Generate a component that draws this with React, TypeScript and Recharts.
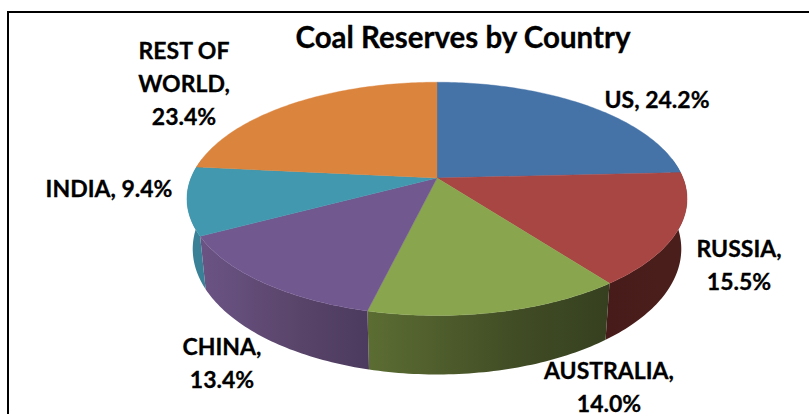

import React from 'react';
import { PieChart, Pie } from 'recharts';

const CATEGORIES = ['US', 'RUSSIA', 'AUSTRALIA', 'CHINA', 'INDIA', 'REST OF WORLD'];
const SHARES = [24.2, 15.5, 14.0, 13.4, 9.4, 23.4];
const NAME_LINES = [['US'], ['RUSSIA'], ['AUSTRALIA'], ['CHINA'], ['INDIA'], ['REST OF', 'WORLD']];
const INLINE_VALUE = [true, false, false, false, true, false];

const TOP_COLORS = ['#4572a7', '#a84644', '#89a54e', '#71588f', '#4198af', '#db843d'];
const WALL_STOPS = [
  ['#365a86', '#365a86', '#365a86'],
  ['#471b19', '#4a1e1b', '#4a1e1b'],
  ['#5c6d33', '#414d25', '#364020'],
  ['#6b5485', '#594469', '#4c3a5f'],
  ['#3a8097', '#3a8097', '#3a8097'],
  ['#b06a30', '#b06a30', '#b06a30'],
];
const LABEL_CENTERS = [
  [657, 100],
  [739, 249],
  [609, 371],
  [222, 347],
  [109, 189],
  [184, 51],
];

const WIDTH = 809;
const HEIGHT = 414;
const CX = 437;
const CY = 178;
const RADIUS = 246;
const Y_RATIO = 0.459;
const PERSPECTIVE = 0.179;
const FONT = 'Lato, "Open Sans", sans-serif';

const tableData = CATEGORIES.map((name, i) => ({ name, value: SHARES[i], fill: TOP_COLORS[i] }));

// Angle in degrees clockwise from 12 o'clock -> point on the tilted disc
function project(theta: number, cx: number, cy: number, r: number) {
  const t = (theta * Math.PI) / 180;
  const u = Math.sin(t);
  const v = -Math.cos(t);
  const w = 1 - PERSPECTIVE * v;
  return [cx + (r * u) / w, cy + (r * Y_RATIO * v) / w];
}

function lower(p: number[], cx: number, cy: number) {
  return [cx + 0.977 * (p[0] - cx), p[1] + 48.5 + 0.076 * (p[1] - cy)];
}

function range(a: number, b: number) {
  const out: number[] = [];
  const n = Math.max(2, Math.ceil(Math.abs(b - a)));
  for (let i = 0; i <= n; i++) out.push(a + ((b - a) * i) / n);
  return out;
}

const pathOf = (pts: number[][]) =>
  pts.map((p, i) => `${i ? 'L' : 'M'}${p[0].toFixed(2)},${p[1].toFixed(2)}`).join('') + 'Z';

function TopSlice(props: any) {
  const { cx, cy, outerRadius, startAngle, endAngle, index } = props;
  const a = 90 - startAngle;
  const b = 90 - endAngle;
  const pts = [[cx, cy], ...range(a, b).map((t) => project(t, cx, cy, outerRadius))];
  return <path d={pathOf(pts)} fill={TOP_COLORS[index]} stroke={TOP_COLORS[index]} strokeWidth={0.4} />;
}

function WallSlice(props: any) {
  const { cx, cy, outerRadius, startAngle, endAngle, index } = props;
  const a = Math.max(90 - startAngle, 80);
  const b = Math.min(90 - endAngle, 280);
  if (b <= a) return <g />;
  const upper = range(a, b).map((t) => project(t, cx, cy, outerRadius));
  const bottom = upper.map((p) => lower(p, cx, cy)).reverse();
  const xs = upper.map((p) => p[0]);
  const x1 = Math.min(...xs);
  const x2 = Math.max(...xs);
  const id = `wall-${index}`;
  return (
    <g>
      <defs>
        <linearGradient id={id} gradientUnits="userSpaceOnUse" x1={x1} x2={x2} y1={0} y2={0}>
          <stop offset="0" stopColor={WALL_STOPS[index][0]} />
          <stop offset="0.6" stopColor={WALL_STOPS[index][1]} />
          <stop offset="1" stopColor={WALL_STOPS[index][2]} />
        </linearGradient>
      </defs>
      <path d={pathOf([...upper, ...bottom])} fill={`url(#${id})`} />
    </g>
  );
}

function SliceLabel(props: any) {
  const { index, value } = props;
  const pct = `${Number(value).toFixed(1)}%`;
  const names = NAME_LINES[index];
  const lines = INLINE_VALUE[index]
    ? [`${names.join(' ')}, ${pct}`]
    : [...names.slice(0, -1), `${names[names.length - 1]},`, pct];
  const [x, y] = LABEL_CENTERS[index];
  return (
    <text x={x} y={y} textAnchor="middle" fontFamily={FONT} fontWeight={700} fontSize={23} fill="#000" stroke="#000" strokeWidth={0.3}>
      {lines.map((line, i) => (
        <tspan key={i} x={x} y={y + i * 33} dy="0.35em">
          {line}
        </tspan>
      ))}
    </text>
  );
}

export default function App() {
  return (
    <div style={{ position: 'fixed', left: 0, top: 0, width: WIDTH, height: HEIGHT, background: '#fff', overflow: 'hidden' }}>
      <PieChart width={WIDTH} height={HEIGHT} margin={{ top: 0, right: 0, bottom: 0, left: 0 }}>
        <rect x={8} y={12} width={WIDTH + 20} height={HEIGHT + 20} fill="#fff" stroke="#000" strokeWidth={2} />
        <text x={463} y={38} textAnchor="middle" dy="0.35em" fontFamily={FONT} fontWeight={700} fontSize={29.5} fill="#000" stroke="#000" strokeWidth={0.3}>
          Coal Reserves by Country
        </text>
        <Pie
          data={tableData}
          dataKey="value"
          nameKey="name"
          cx={CX}
          cy={CY}
          outerRadius={RADIUS}
          startAngle={90}
          endAngle={-270}
          stroke="none"
          shape={WallSlice}
          isAnimationActive={false}
          legendType="none"
        />
        <Pie
          data={tableData}
          dataKey="value"
          nameKey="name"
          cx={CX}
          cy={CY}
          outerRadius={RADIUS}
          startAngle={90}
          endAngle={-270}
          stroke="none"
          shape={TopSlice}
          label={SliceLabel}
          labelLine={false}
          isAnimationActive={false}
          legendType="none"
        />
      </PieChart>
    </div>
  );
}
